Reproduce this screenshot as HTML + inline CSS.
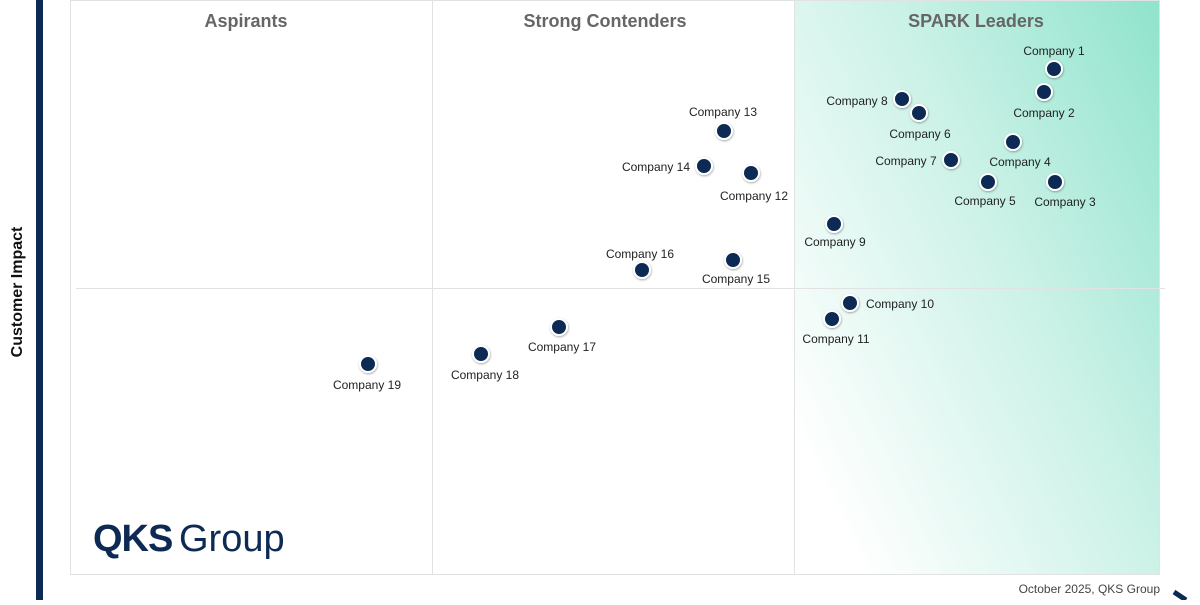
<!DOCTYPE html>
<html><head><meta charset="utf-8"><style>
body{margin:0;width:1200px;height:600px;overflow:hidden;background:#fff;font-family:"Liberation Sans",Arial,sans-serif}
</style></head><body>
<svg width="1200" height="600" viewBox="0 0 1200 600" xmlns="http://www.w3.org/2000/svg" font-family="Liberation Sans, Arial, sans-serif">
<defs>
<linearGradient id="g" x1="1" y1="0" x2="0" y2="0.75">
<stop offset="0" stop-color="#8fe3cc"/>
<stop offset="0.45" stop-color="#c9f1e6"/>
<stop offset="1" stop-color="#ffffff"/>
</linearGradient>
<filter id="sh" x="-50%" y="-50%" width="200%" height="200%"><feDropShadow dx="0.5" dy="1" stdDeviation="1" flood-color="#000" flood-opacity="0.35"/></filter>
</defs>
<rect x="36" y="0" width="7" height="600" fill="#0d2a55"/>
<rect x="794" y="0" width="366" height="575" fill="url(#g)"/>
<rect x="70.5" y="0.5" width="1089" height="574" fill="none" stroke="#e2e2e2"/>
<line x1="432.5" y1="0" x2="432.5" y2="575" stroke="#e2e2e2"/>
<line x1="794.5" y1="0" x2="794.5" y2="575" stroke="#e2e2e2"/>
<line x1="76" y1="288.5" x2="1165" y2="288.5" stroke="#e2e2e2"/>
<g font-size="18" font-weight="bold" fill="#666" text-anchor="middle">
<text x="246" y="27">Aspirants</text>
<text x="605" y="27">Strong Contenders</text>
<text x="976" y="27">SPARK Leaders</text>
</g>
<text transform="translate(22,292) rotate(-90)" font-size="16" font-weight="bold" fill="#111" text-anchor="middle">Customer Impact</text>
<text x="93" y="551" font-size="38" font-weight="bold" fill="#0d2a55" letter-spacing="-1">QKS</text>
<text x="179" y="551" font-size="38" fill="#0d2a55">Group</text>
<text x="1160" y="593" font-size="12" fill="#444" text-anchor="end">October 2025, QKS Group</text>
<path d="M1174 592 L1186 600" stroke="#0d2a55" stroke-width="5"/>
<g fill="#0d2a55" stroke="#fff" stroke-width="2" filter="url(#sh)">
<circle cx="1054" cy="69" r="8"/><circle cx="1044" cy="92" r="8"/><circle cx="1055" cy="182" r="8"/>
<circle cx="1013" cy="142" r="8"/><circle cx="988" cy="182" r="8"/><circle cx="919" cy="113" r="8"/>
<circle cx="951" cy="160" r="8"/><circle cx="902" cy="99" r="8"/><circle cx="834" cy="224" r="8"/>
<circle cx="850" cy="303" r="8"/><circle cx="832" cy="319" r="8"/><circle cx="751" cy="173" r="8"/>
<circle cx="724" cy="131" r="8"/><circle cx="704" cy="166" r="8"/><circle cx="733" cy="260" r="8"/>
<circle cx="642" cy="270" r="8"/><circle cx="559" cy="327" r="8"/><circle cx="481" cy="354" r="8"/>
<circle cx="368" cy="364" r="8"/>
</g>
<g font-size="12" fill="#222" text-anchor="middle">
<text x="1054" y="55">Company 1</text>
<text x="1044" y="117">Company 2</text>
<text x="1065" y="206">Company 3</text>
<text x="1020" y="166">Company 4</text>
<text x="985" y="205">Company 5</text>
<text x="920" y="138">Company 6</text>
<text x="906" y="165">Company 7</text>
<text x="857" y="105">Company 8</text>
<text x="835" y="246">Company 9</text>
<text x="900" y="308">Company 10</text>
<text x="836" y="343">Company 11</text>
<text x="754" y="200">Company 12</text>
<text x="723" y="116">Company 13</text>
<text x="656" y="171">Company 14</text>
<text x="736" y="283">Company 15</text>
<text x="640" y="258">Company 16</text>
<text x="562" y="351">Company 17</text>
<text x="485" y="379">Company 18</text>
<text x="367" y="389">Company 19</text>
</g>
</svg>
</body></html>
